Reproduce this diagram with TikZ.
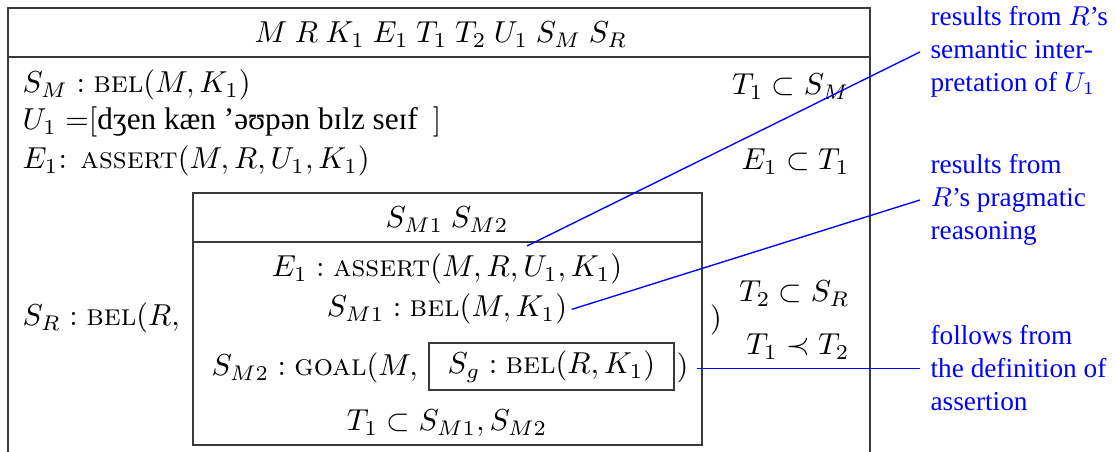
\documentclass[tikz,border=0pt]{standalone}
\usepackage{amsmath}
\usepackage{amssymb}
\usepackage{fontspec}
\usepackage{xcolor}
\usepackage{tikz}
\newfontfamily\ipafont{Liberation Serif}
\newfontfamily\notefont{Liberation Serif}
\definecolor{dgBlue}{HTML}{0000FF}
\definecolor{dgFrame}{HTML}{3A3A3A}
\newcommand{\hs}{\mkern4.5mu}
\usetikzlibrary{positioning}

\begin{document}
\begin{tikzpicture}[x=0.33pt, y=-0.33pt,
    txt/.style={inner sep=0pt, font=\fontsize{10}{12}\selectfont},
    note/.style={inner sep=3.3pt, align=left, text=dgBlue,
      font=\notefont\fontsize{9}{10.9}\selectfont},
    frame/.style={draw=dgFrame, line width=0.5pt},
    sgbox/.style={frame, inner sep=0pt, minimum width=80.9pt,
      minimum height=15.5pt, font=\fontsize{10}{12}\selectfont},
    link/.style={draw=dgBlue, line width=0.45pt}]
    \useasboundingbox (0,0) rectangle (1116,452);

    % outer box, open at the bottom
    \draw[frame] (8,470) -- (8,8) -- (870,8) -- (870,470);
    \draw[frame] (8,57) -- (870,57);
    \node[txt, anchor=base] (hdr) at (441,43) {$M\hs R\hs K_1\hs E_1\hs T_1\hs T_2\hs U_1\hs S_M\hs S_R$};

    \node[txt, anchor=base west] (smbel) at (22,93) {$S_M:\textsc{bel}(M,K_1)$};
    \node[txt, anchor=base west] (uone) at (22,130) {$U_1 =$[{\ipafont\fontsize{10.3}{12}\selectfont dʒen kæn ’əʊpən bɪlz seɪf} \,]};
    \node[txt, anchor=base west] (eone) at (22,169) {$E_1$: \textsc{assert}$(M,R,U_1,K_1)$};
    \node[txt, anchor=base east] (tsm) at (850,95) {$T_1\subset S_M$};
    \node[txt, anchor=base east] (et) at (850,170) {$E_1\subset T_1$};

    \node[txt, anchor=base west] (srbel) at (22,326) {$S_R:\textsc{bel}(R,$};
    \node[txt, anchor=base] (close1) at (716,328) {$)$};
    \node[txt, anchor=base east] (tsr) at (850,302) {$T_2\subset S_R$};
    \node[txt, anchor=base east] (tprec) at (850,355) {$T_1\prec T_2$};

    % inner box
    \draw[frame] (193,193) rectangle (702,445);
    \draw[frame] (193,242) -- (702,242);
    \node[txt, anchor=base] (ihdr) at (447,228) {$S_{M1}\hs S_{M2}$};
    \node[txt, anchor=base] (assert) at (447,277) {$E_1:\textsc{assert}(M,R,U_1,K_1)$};
    \node[txt, anchor=base] (smone) at (447,317) {$S_{M1}:\textsc{bel}(M,K_1)$};
    \node[txt, anchor=base west] (goal) at (211,376) {$S_{M2}:\textsc{goal}(M,$};
    \node[sgbox] (sg) at (551.5,366.5) {$S_g:\textsc{bel}(R,K_1)$};
    \node[txt, anchor=base west] (close2) at (676,376) {$)$};
    \node[txt, anchor=base] (subs) at (447,431) {$T_1\subset S_{M1},S_{M2}$};

    % notes on the right
    \node[note, anchor=west] (lab1) at (920,52) {results from $R$’s\\semantic inter-\\pretation of $U_1$};
    \node[note, anchor=west] (lab2) at (920,200) {results from\\$R$’s pragmatic\\reasoning};
    \node[note, anchor=west] (lab3) at (920,368) {follows from\\the definition of\\assertion};

    \coordinate (sem) at (527,246);
    \draw[link] (sem) -- (lab1.west);
    \draw[link] ([xshift=1.3pt]smone.east) -- (lab2.west);
    \draw[link] ([xshift=2.6pt]close2.east) -- (close2.east -| lab3.west);
  \end{tikzpicture}
\end{document}
